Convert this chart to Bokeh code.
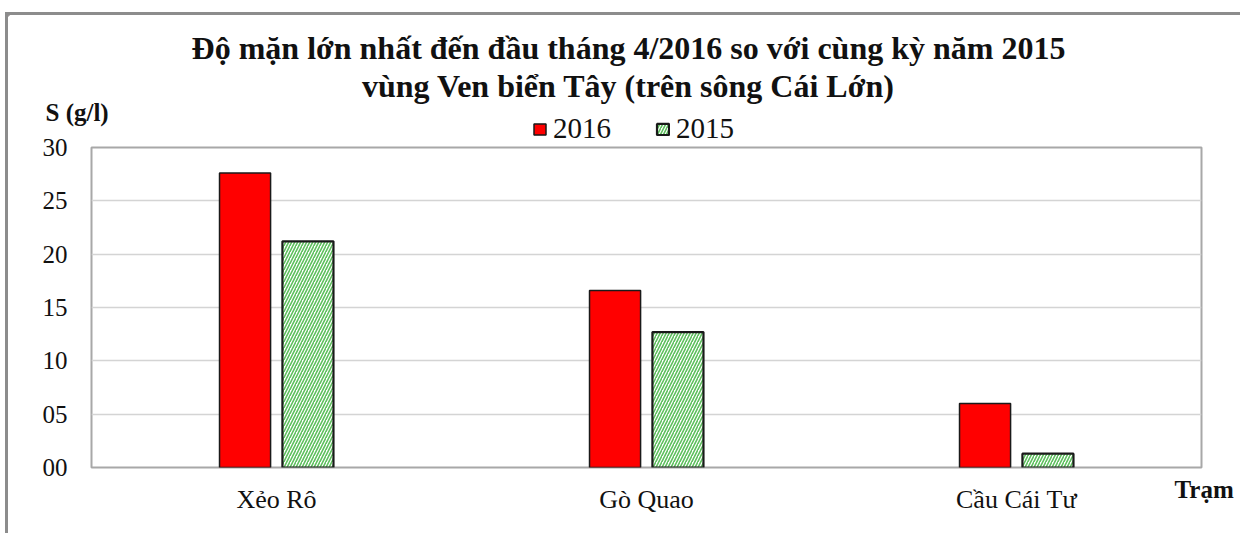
from bokeh.plotting import figure
from bokeh.layouts import column
from bokeh.models import (ColumnDataSource, FactorRange, Range1d, FixedTicker, Label,
                          Legend, LegendItem, LinearAxis)
from bokeh.transform import dodge
from bokeh.embed import file_html
from bokeh.resources import INLINE

# ---- data ----
stations = ["Xẻo Rô", "Gò Quao", "Cầu Cái Tư"]
s2016 = [27.6, 16.6, 6.0]
s2015 = [21.2, 12.7, 1.3]
years = ["2016", "2015"]
y_ticks = [0, 5, 10, 15, 20, 25, 30]
y_tick_labels = ["00", "05", "10", "15", "20", "25", "30"]
title_lines = ["Độ mặn lớn nhất đến đầu tháng 4/2016 so với cùng kỳ năm 2015",
               "vùng Ven biển Tây (trên sông Cái Lớn)"]
y_label = "S (g/l)"
x_label = "Trạm"

SERIF = "Liberation Serif"
TXT = "#111111"
STY16 = dict(fill_color="#ff0000", line_color="#1a1a1a", line_width=1.5)
STY15 = dict(fill_color="#ffffff", hatch_pattern="/", hatch_color="#5cbf5c",
             hatch_scale=6, hatch_weight=1.6, line_color="#1a1a1a", line_width=2.2)

# layout (page pixels)
OX, OY = 8, 15            # content origin inside the outer frame
W = 1232
HH = 130                  # header height (page 15..145)
MAIN_TOP = 132            # main figure starts here (overlaps the header's transparent strip)
OVER = OY + HH - MAIN_TOP
FL, FR, FT, FB = 91, 1201, 147, 467
MH = 533 - MAIN_TOP

# ---------- header: titles, y-axis name, legend ----------
hdr = figure(width=W, height=HH, output_backend="svg", toolbar_location=None,
             x_range=Range1d(OX, OX + W), y_range=Range1d(OY + HH, OY),
             x_axis_type=None, y_axis_type=None, min_border=0, frame_align=False)
hdr.outline_line_color = None
hdr.background_fill_color = "white"
hdr.border_fill_color = "white"

for i, t in enumerate(title_lines):
    hdr.add_layout(Label(x=628, y=47 + i * 38, text=t, text_align="center", text_baseline="middle",
                         text_font=SERIF, text_font_size="32px", text_font_style="bold",
                         text_color=TXT))
hdr.add_layout(Label(x=45, y=112, text=y_label, text_align="left", text_baseline="middle",
                     text_font=SERIF, text_font_size="25px", text_font_style="bold",
                     text_color=TXT))

# legend swatches come from off-canvas proxy renderers with the bars' styles
proxy = ColumnDataSource(dict(x=[-1000], top=[-1000]))
d16 = hdr.vbar(x="x", top="top", width=1, source=proxy, **STY16)
d15 = hdr.vbar(x="x", top="top", width=1, source=proxy, **STY15)
legend = Legend(items=[LegendItem(label=years[0], renderers=[d16]),
                       LegendItem(label=years[1], renderers=[d15])],
                orientation="horizontal", location=(532 - OX, 0),
                glyph_width=15, glyph_height=14, label_standoff=6, spacing=44,
                padding=0, margin=0, border_line_color=None, background_fill_alpha=0,
                label_text_font=SERIF, label_text_font_size="29px", label_text_color=TXT)
hdr.add_layout(legend, "center")

# ---------- main chart ----------
top_b = FT - MAIN_TOP
p = figure(width=W, height=MH, output_backend="svg", toolbar_location=None,
           x_range=FactorRange(factors=stations, range_padding=0),
           y_range=Range1d(0, 30), frame_align=False, margin=(-OVER, 0, 0, 0),
           min_border_left=FL - OX, min_border_right=OX + W - FR,
           min_border_top=top_b, min_border_bottom=MH - top_b - (FB - FT))

src = ColumnDataSource(dict(station=stations, v2016=s2016, v2015=s2015))
p.vbar(x=dodge("station", -0.085, range=p.x_range), top="v2016", width=0.138, source=src, **STY16)
p.vbar(x=dodge("station", 0.085, range=p.x_range), top="v2015", width=0.138, source=src, **STY15)

p.yaxis.ticker = FixedTicker(ticks=y_ticks)
p.yaxis.major_label_overrides = {t: l for t, l in zip(y_ticks, y_tick_labels)}
for ax in (p.xaxis[0], p.yaxis[0]):
    ax.axis_line_color = None
    ax.major_tick_line_color = None
    ax.minor_tick_line_color = None
    ax.major_label_text_font = SERIF
    ax.major_label_text_color = TXT
p.yaxis.major_label_text_font_size = "25px"
p.xaxis.major_label_text_font_size = "26px"
p.yaxis.major_label_standoff = 18
p.xaxis.major_label_standoff = 11

# axis name "Trạm" at the lower right, as the single label of a right-hand axis
ra = LinearAxis(ticker=FixedTicker(ticks=[0]), major_label_overrides={0: "\n" + x_label},
                axis_line_color=None, major_tick_line_color=None, minor_tick_line_color=None,
                major_label_standoff=-33, major_label_text_line_height=1.6,
                major_label_text_font=SERIF, major_label_text_font_size="25px",
                major_label_text_font_style="bold", major_label_text_color=TXT)
p.add_layout(ra, "right")

p.xgrid.grid_line_color = None
p.ygrid.grid_line_color = "#d4d4d4"
p.ygrid.grid_line_width = 1.5
p.outline_line_color = "#a8a8a8"
p.outline_line_width = 2
p.background_fill_color = "white"
p.border_fill_alpha = 0

page = column(hdr, p, spacing=0, margin=(12, 0, 0, 5),
              styles={"border-left": "3px solid #8c8c8c", "border-top": "3px solid #8c8c8c"})

open("out.html", "w").write(file_html(page, INLINE))
